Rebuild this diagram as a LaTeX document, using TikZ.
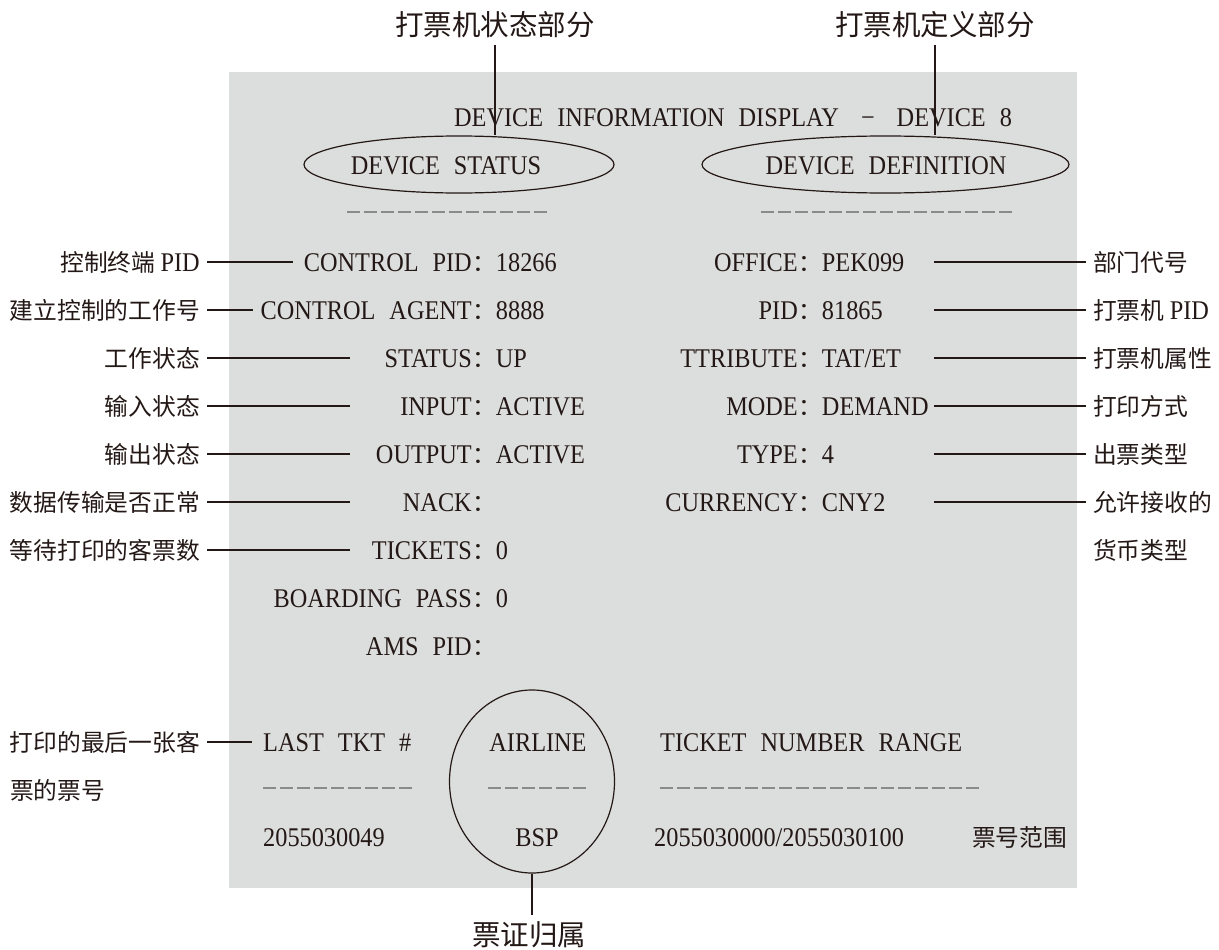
\documentclass[tikz,border=0pt]{standalone}
\usepackage{fontspec}
\setmainfont{Liberation Serif}[FakeStretch=0.9]
\newfontfamily\cjkfam{Noto Sans CJK SC}
\usetikzlibrary{shapes.geometric}
\definecolor{ink}{HTML}{231815}
\definecolor{panel}{HTML}{DCDDDD}
\definecolor{dashc}{HTML}{8A8A8A}
\newcommand\latf{\rmfamily\fontsize{27}{32}\selectfont\spaceskip=14pt\relax}
\newcommand\cjkf{\cjkfam\fontsize{23.75}{28}\selectfont}
\newcommand\cjkbig{\cjkfam\fontsize{28.5}{34}\selectfont}
\newcommand\fcolon{{\cjkfam\fontsize{23.75}{28}\selectfont ：}}
\begin{document}
\begin{tikzpicture}[x=1pt,y=-1pt,
  every node/.style={text=ink},
  fld/.style={font=\latf, inner sep=0pt},
  cjl/.style={font=\cjkf, inner sep=7pt},
  big/.style={font=\cjkbig, inner sep=7pt},
  lead/.style={draw=ink, line width=1.2pt},
  rule/.style={draw=dashc, line width=1.4pt, dash pattern=on 13pt off 4pt},
  oval/.style={draw=ink, line width=1.2pt, ellipse, inner sep=0pt}]
\useasboundingbox (0,0) rectangle (1219,950);
\fill[panel] (229,72) rectangle (1077,888);

% titles
\node[big] (t1) at (495,25) {打票机状态部分};
\node[big] (t2) at (935,25) {打票机定义部分};

% header
\node[fld, anchor=base west] (hdr) at (454,126) {DEVICE INFORMATION DISPLAY\hspace{22pt}−\hspace{22pt}DEVICE 8};

% ellipses
\node[oval, minimum width=310pt, minimum height=57pt] (e1) at (459,164.5) {};
\node[fld, anchor=base] (s1) at (446,174) {DEVICE STATUS};
\node[oval, minimum width=367pt, minimum height=57pt] (e2) at (885.5,164.5) {};
\node[fld, anchor=base] (s2) at (886,174) {DEVICE DEFINITION};
\draw[lead] (t1.south) -- (t1.south |- e1.north);
\draw[lead] (t2.south) -- (t2.south |- e2.north);

\draw[rule] (347,212) -- (547,212);
\draw[rule] (761,212) -- (1012,212);

% left fields
\node[fld, anchor=base east] (a1) at (472,271) {CONTROL PID};
\node[fld, anchor=base west] (v1) at (472,271) {\fcolon18266};
\node[fld, anchor=base east] (a2) at (472,319) {CONTROL AGENT};
\node[fld, anchor=base west] (v2) at (472,319) {\fcolon8888};
\node[fld, anchor=base east] (a3) at (472,367) {STATUS};
\node[fld, anchor=base west] (v3) at (472,367) {\fcolon UP};
\node[fld, anchor=base east] (a4) at (472,415) {INPUT};
\node[fld, anchor=base west] (v4) at (472,415) {\fcolon ACTIVE};
\node[fld, anchor=base east] (a5) at (472,463) {OUTPUT};
\node[fld, anchor=base west] (v5) at (472,463) {\fcolon ACTIVE};
\node[fld, anchor=base east] (a6) at (472,511) {NACK};
\node[fld, anchor=base west] (v6) at (472,511) {\fcolon};
\node[fld, anchor=base east] (a7) at (472,559) {TICKETS};
\node[fld, anchor=base west] (v7) at (472,559) {\fcolon0};
\node[fld, anchor=base east] (a8) at (472,607) {BOARDING PASS};
\node[fld, anchor=base west] (v8) at (472,607) {\fcolon0};
\node[fld, anchor=base east] (a9) at (472,655) {AMS PID};
\node[fld, anchor=base west] (v9) at (472,655) {\fcolon};

% right fields
\node[fld, anchor=base east] (b1) at (798,271) {OFFICE};
\node[fld, anchor=base west] (w1) at (798,271) {\fcolon PEK099};
\node[fld, anchor=base east] (b2) at (798,319) {PID};
\node[fld, anchor=base west] (w2) at (798,319) {\fcolon81865};
\node[fld, anchor=base east] (b3) at (798,367) {TTRIBUTE};
\node[fld, anchor=base west] (w3) at (798,367) {\fcolon TAT/ET};
\node[fld, anchor=base east] (b4) at (798,415) {MODE};
\node[fld, anchor=base west] (w4) at (798,415) {\fcolon DEMAND};
\node[fld, anchor=base east] (b5) at (798,463) {TYPE};
\node[fld, anchor=base west] (w5) at (798,463) {\fcolon4};
\node[fld, anchor=base east] (b6) at (798,511) {CURRENCY};
\node[fld, anchor=base west] (w6) at (798,511) {\fcolon CNY2};

% left notes
\node[cjl, anchor=base east] (c1) at (207,271) {控制终端 {\latf PID}};
\node[cjl, anchor=base east] (c2) at (207,319) {建立控制的工作号};
\node[cjl, anchor=base east] (c3) at (207,367) {工作状态};
\node[cjl, anchor=base east] (c4) at (207,415) {输入状态};
\node[cjl, anchor=base east] (c5) at (207,463) {输出状态};
\node[cjl, anchor=base east] (c6) at (207,511) {数据传输是否正常};
\node[cjl, anchor=base east] (c7) at (207,559) {等待打印的客票数};
\node[cjl, anchor=base east] (c8) at (207,751) {打印的最后一张客};
\node[cjl, anchor=base west] (c9) at (3,799) {票的票号};

\coordinate (lx) at (350,0);
\draw[lead, shorten >=11pt] (c1.east) -- (c1.east -| a1.west);
\draw[lead, shorten >=8pt] (c2.east) -- (c2.east -| a2.west);
\draw[lead] (c3.east) -- (c3.east -| lx);
\draw[lead] (c4.east) -- (c4.east -| lx);
\draw[lead] (c5.east) -- (c5.east -| lx);
\draw[lead] (c6.east) -- (c6.east -| lx);
\draw[lead] (c7.east) -- (c7.east -| lx);

% right notes
\node[cjl, anchor=base west] (r1) at (1086,271) {部门代号};
\node[cjl, anchor=base west] (r2) at (1086,319) {打票机 {\latf PID}};
\node[cjl, anchor=base west] (r3) at (1086,367) {打票机属性};
\node[cjl, anchor=base west] (r4) at (1086,415) {打印方式};
\node[cjl, anchor=base west] (r5) at (1086,463) {出票类型};
\node[cjl, anchor=base west] (r6) at (1086,511) {允许接收的};
\node[cjl, anchor=base west] (r7) at (1086,559) {货币类型};

\coordinate (rx) at (934,0);
\foreach \i in {1,...,6}{\draw[lead] (r\i.west) -- (r\i.west -| rx);}

% bottom block
\node[fld, anchor=base west] (lt) at (263,751) {LAST TKT \#};
\draw[lead, shorten >=11pt] (c8.east) -- (c8.east -| lt.west);
\draw[rule] (263,788) -- (412,788);
\node[fld, anchor=base west] (ln) at (263,846) {2055030049};

\node[oval, minimum width=165pt, minimum height=183pt] (ea) at (532,781.5) {};
\node[fld, anchor=base] (al) at (538,751) {AIRLINE};
\draw[rule] (488,788) -- (586,788);
\node[fld, anchor=base] (bsp) at (537,846) {BSP};
\node[big] (t3) at (529,935) {票证归属};
\draw[lead] (ea.south) -- (ea.south |- t3.north);

\node[fld, anchor=base west] (tr) at (660,751) {TICKET NUMBER RANGE};
\draw[rule] (660,788) -- (979,788);
\node[fld, anchor=base west] (rn) at (654,846) {2055030000/2055030100};
\node[cjl, anchor=base west] (rg) at (965,846) {票号范围};
\end{tikzpicture}
\end{document}
